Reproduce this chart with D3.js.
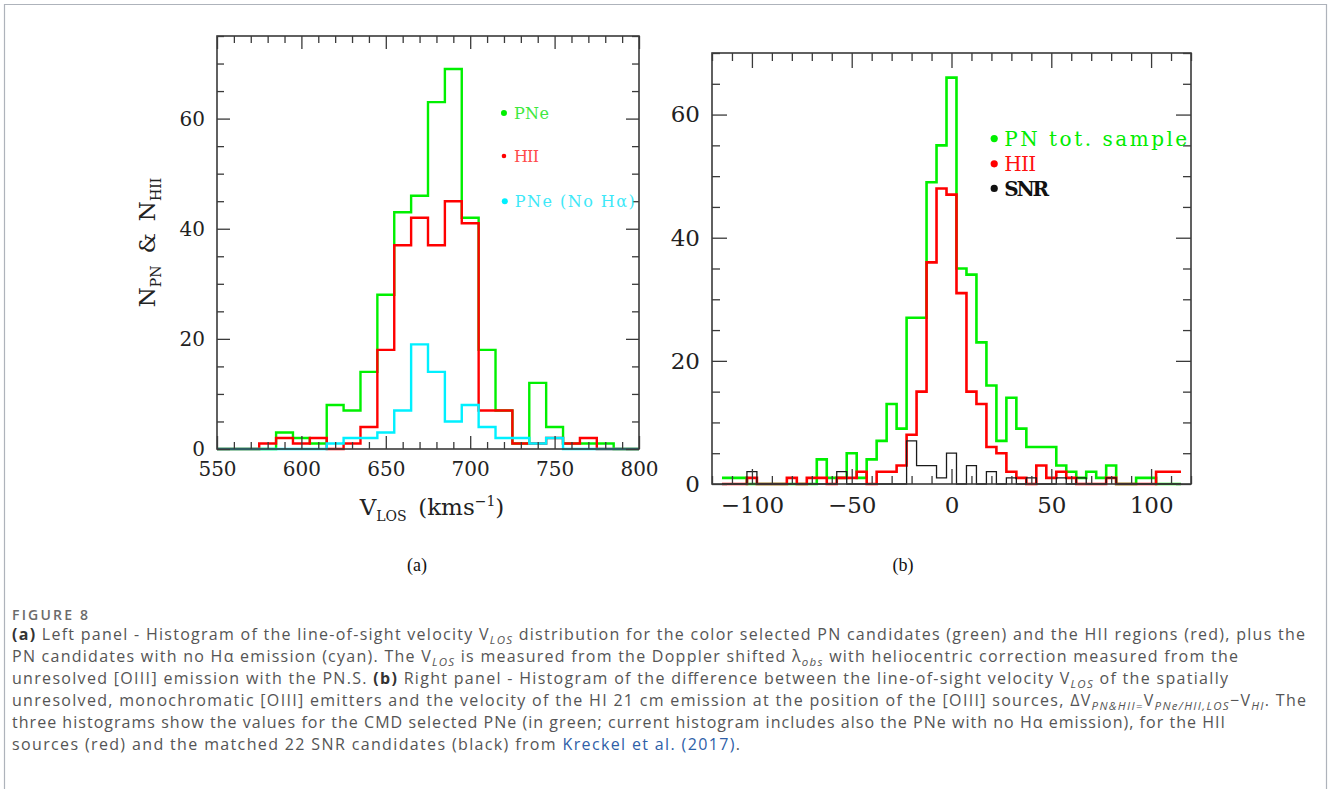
<!DOCTYPE html>
<html>
<head>
<meta charset="utf-8">
<script src="https://cdn.jsdelivr.net/npm/d3@7"></script>
<style>
  body { margin: 0; background: #fff; }
  svg { display: block; }
</style>
</head>
<body>
<div id="chart"></div>
<script>
// (a) line-of-sight velocity histograms, bin centres in km/s
var leftCenters = [550, 560, 570, 580, 590, 600, 610, 620, 630, 640, 650, 660, 670,
                   680, 690, 700, 710, 720, 730, 740, 750, 760, 770, 780, 790, 800];
var leftPNe     = [0, 0, 0, 0, 3, 2, 1, 8, 7, 14, 28, 43, 46, 63, 69, 42, 18, 7, 1, 12, 4, 1, 1, 1, 0, 0];
var leftHII     = [0, 0, 0, 1, 2, 1, 2, 0, 1, 4, 18, 37, 42, 37, 45, 41, 7, 7, 1, 1, 2, 1, 2, 0, 0, 0];
var leftPNeNoHa = [0, 0, 0, 0, 0, 0, 0, 1, 2, 2, 3, 7, 19, 14, 5, 8, 4, 2, 2, 1, 2, 0, 0, 0, 0, 0];

// (b) velocity difference histograms
var rightCenters = [-115, -110, -105, -100, -95, -90, -85, -80, -75, -70, -65, -60, -55, -50, -45, -40,
                    -35, -30, -25, -20, -15, -10, -5, 0, 5, 10, 15, 20, 25, 30, 35, 40, 45, 50, 55,
                    60, 65, 70, 75, 80, 85, 90, 95, 100, 105, 110, 115];
var rightPN  = [1, 1, 1, 0, 0, 0, 0, 0, 0, 0, 4, 1, 1, 5, 1, 4, 7, 13, 9, 27, 27, 49, 55, 66,
                35, 34, 23, 16, 7, 14, 9, 6, 6, 6, 3, 2, 1, 2, 1, 3, 0, 0, 1, 1, 0, 0, 0];
var rightHII = [0, 0, 0, 1, 0, 0, 0, 1, 0, 1, 1, 0, 1, 1, 2, 0, 2, 2, 3, 8, 15, 36, 48, 47,
                31, 15, 13, 6, 5, 2, 1, 0, 3, 1, 2, 1, 0, 0, 0, 1, 0, 0, 0, 0, 2, 2, 2];
var rightSNR = [0, 0, 0, 2, 0, 0, 0, 0, 0, 0, 0, 0, 2, 0, 0, 0, 0, 0, 0, 7, 3, 3, 1, 5,
                0, 3, 0, 2, 0, 1, 0, 1, 0, 0, 1, 0, 1, 0, 0, 1, 0, 0, 0, 0, 0, 0, 0];

var green = "#00f000", red = "#ff0000", cyan = "#00f0ff", frameColor = "#3a3a3a";
var plotFont = "'DejaVu Serif', serif";

var svg = d3.select("#chart").append("svg")
  .attr("width", 1330)
  .attr("height", 789)
  .style("background", "#fff");

// outer figure border (open at the bottom)
svg.append("path")
  .attr("d", "M4.5,789 V4.5 H1326.5 V789")
  .attr("fill", "none")
  .attr("stroke", "#aeb3bb")
  .attr("stroke-width", 1.2);

// pgbin-like step path: end bins are half width
function stepPoints(centers, values) {
  var pts = [];
  for (var i = 0; i < centers.length; i++) {
    var e = i === 0 ? centers[0] : (centers[i - 1] + centers[i]) / 2;
    pts.push([e, values[i]]);
  }
  pts.push([centers[centers.length - 1], values[values.length - 1]]);
  return pts;
}

function drawPanel(opt) {
  var x = d3.scaleLinear().domain(opt.xDomain).range([opt.left, opt.right]);
  var y = d3.scaleLinear().domain(opt.yDomain).range([opt.bottom, opt.top]);
  var g = svg.append("g");

  var line = d3.line()
    .x(function(d) { return x(d[0]); })
    .y(function(d) { return y(d[1]); })
    .curve(d3.curveStepAfter);

  opt.series.forEach(function(s) {
    g.append("path")
      .attr("d", line(stepPoints(opt.centers, s.values)))
      .attr("fill", "none")
      .attr("stroke", s.color)
      .attr("stroke-width", s.width)
      .attr("stroke-linejoin", "miter");
  });

  // frame
  g.append("rect")
    .attr("x", opt.left).attr("y", opt.top)
    .attr("width", opt.right - opt.left).attr("height", opt.bottom - opt.top)
    .attr("fill", "none").attr("stroke", frameColor).attr("stroke-width", 1.6);

  function styleAxis(sel) {
    sel.select(".domain").remove();
    sel.selectAll("line").attr("stroke", frameColor).attr("stroke-width", 1.3);
    sel.selectAll("text").attr("fill", "#222")
      .style("font-family", plotFont).style("font-size", opt.tickFont + "px");
  }

  var xMinor = opt.xMinor.filter(function(v) { return opt.xMajor.indexOf(v) < 0; });
  var yMinor = opt.yMinor.filter(function(v) { return opt.yMajor.indexOf(v) < 0; });

  // bottom
  g.append("g").attr("transform", "translate(0," + opt.bottom + ")")
    .call(d3.axisBottom(x).tickValues(xMinor).tickFormat("").tickSizeInner(-opt.minorLen).tickSizeOuter(0))
    .call(styleAxis);
  g.append("g").attr("transform", "translate(0," + opt.bottom + ")")
    .call(d3.axisBottom(x).tickValues(opt.xMajor).tickFormat(d3.format("d"))
      .tickSizeInner(-opt.majorLen).tickSizeOuter(0).tickPadding(opt.xPad))
    .call(styleAxis);
  // top
  g.append("g").attr("transform", "translate(0," + opt.top + ")")
    .call(d3.axisTop(x).tickValues(xMinor).tickFormat("").tickSizeInner(-opt.minorLen).tickSizeOuter(0))
    .call(styleAxis);
  g.append("g").attr("transform", "translate(0," + opt.top + ")")
    .call(d3.axisTop(x).tickValues(opt.xMajor).tickFormat("").tickSizeInner(-opt.majorLen).tickSizeOuter(0))
    .call(styleAxis);
  // left
  g.append("g").attr("transform", "translate(" + opt.left + ",0)")
    .call(d3.axisLeft(y).tickValues(yMinor).tickFormat("").tickSizeInner(-opt.minorLen).tickSizeOuter(0))
    .call(styleAxis);
  g.append("g").attr("transform", "translate(" + opt.left + ",0)")
    .call(d3.axisLeft(y).tickValues(opt.yMajor).tickFormat(d3.format("d"))
      .tickSizeInner(-opt.majorLen).tickSizeOuter(0).tickPadding(opt.yPad))
    .call(styleAxis);
  // right
  g.append("g").attr("transform", "translate(" + opt.right + ",0)")
    .call(d3.axisRight(y).tickValues(yMinor).tickFormat("").tickSizeInner(-opt.minorLen).tickSizeOuter(0))
    .call(styleAxis);
  g.append("g").attr("transform", "translate(" + opt.right + ",0)")
    .call(d3.axisRight(y).tickValues(opt.yMajor).tickFormat("").tickSizeInner(-opt.majorLen).tickSizeOuter(0))
    .call(styleAxis);

  // legend
  opt.legend.forEach(function(l) {
    var lx = x(l.x), ly = y(l.y);
    g.append("circle").attr("cx", lx).attr("cy", ly).attr("r", l.r).attr("fill", l.dot);
    var t = g.append("text")
      .attr("x", lx + 10).attr("y", ly).attr("dy", "0.36em")
      .attr("fill", l.color)
      .style("font-family", plotFont)
      .style("font-size", opt.legendFont + "px")
      .style("font-weight", l.bold ? "bold" : "normal")
      .text(l.text);
    if (l.len) t.attr("textLength", l.len).attr("lengthAdjust", "spacing");
  });
  return {x: x, y: y};
}

var pa = drawPanel({
  left: 217, right: 639, top: 36, bottom: 449,
  xDomain: [550, 800], yDomain: [0, 75],
  centers: leftCenters,
  series: [
    {values: leftPNe, color: green, width: 2.4},
    {values: leftHII, color: red, width: 2.4},
    {values: leftPNeNoHa, color: cyan, width: 2.4}
  ],
  xMinor: d3.range(550, 801, 10), xMajor: [550, 600, 650, 700, 750, 800],
  yMinor: d3.range(0, 76, 5), yMajor: [0, 20, 40, 60],
  minorLen: 7, majorLen: 13, tickFont: 20, xPad: 13, yPad: 12,
  legendFont: 16,
  legend: [
    {x: 720, y: 61, r: 3, dot: green, color: "#3ee83e", text: "PNe", len: 35},
    {x: 720, y: 53.2, r: 2.3, dot: red, color: "#ff4a4a", text: "HII", len: 25},
    {x: 720.5, y: 45, r: 3, dot: cyan, color: "#3ee8f8", text: "PNe (No H\u03b1)", len: 120}
  ]
});

// axis titles panel (a)
svg.append("text")
  .attr("transform", "translate(" + (pa.x(550) - 62) + "," + pa.y(37.5) + ") rotate(-90)")
  .attr("text-anchor", "middle")
  .attr("fill", "#222")
  .style("font-family", plotFont).style("font-size", "23px")
  .call(function(t) {
    t.append("tspan").text("N");
    t.append("tspan").attr("dy", 6).style("font-size", "14px").text("PN");
    t.append("tspan").attr("dy", -6).text("\u2009 &\u2009 N");
    t.append("tspan").attr("dy", 6).style("font-size", "14px").text("HII");
  });

svg.append("text")
  .attr("x", pa.x(675) + 4).attr("y", 515)
  .attr("text-anchor", "middle")
  .attr("fill", "#222")
  .style("font-family", plotFont).style("font-size", "23px")
  .call(function(t) {
    t.append("tspan").text("V");
    t.append("tspan").attr("dy", 6).style("font-size", "14px").text("LOS");
    t.append("tspan").attr("dy", -6).text("\u2002(kms");
    t.append("tspan").attr("dy", -9).style("font-size", "14px").text("\u22121");
    t.append("tspan").attr("dy", 9).text(")");
  });

drawPanel({
  left: 712, right: 1191, top: 53, bottom: 484,
  xDomain: [-120, 120], yDomain: [0, 70],
  centers: rightCenters,
  series: [
    {values: rightPN, color: green, width: 2.6},
    {values: rightHII, color: red, width: 2.6},
    {values: rightSNR, color: "#1a1a1a", width: 1.3}
  ],
  xMinor: d3.range(-120, 121, 10), xMajor: [-100, -50, 0, 50, 100],
  yMinor: d3.range(0, 71, 5), yMajor: [0, 20, 40, 60],
  minorLen: 8, majorLen: 15, tickFont: 23, xPad: 13, yPad: 12,
  legendFont: 20,
  legend: [
    {x: 21.4, y: 56.1, r: 3.6, dot: green, color: "#00ec00", text: "PN tot. sample", len: 183},
    {x: 21.4, y: 52, r: 3.6, dot: red, color: "#ff1010", text: "HII", len: 32},
    {x: 21.4, y: 48, r: 3.6, dot: "#111", color: "#111", text: "SNR", len: 45, bold: true}
  ]
});

// sub-figure labels
[["(a)", 417], ["(b)", 903]].forEach(function(d) {
  svg.append("text").attr("x", d[1]).attr("y", 571).attr("text-anchor", "middle")
    .attr("fill", "#111")
    .style("font-family", "'Liberation Serif', serif").style("font-size", "18px")
    .text(d[0]);
});

// caption
var capFont = "'Open Sans', 'Noto Sans', sans-serif";
svg.append("text").attr("x", 12).attr("y", 620)
  .attr("fill", "#6b6b6b")
  .attr("textLength", 76).attr("lengthAdjust", "spacing")
  .style("font-family", capFont).style("font-size", "14px").style("font-weight", "600")
  .text("FIGURE 8");

var captionLines = [
  [["b", "(a)"], ["", " Left panel - Histogram of the line-of-sight velocity V"], ["s", "LOS"],
   ["", " distribution for the color selected PN candidates (green) and the HII regions (red), plus the"]],
  [["", "PN candidates with no H\u03b1 emission (cyan). The V"], ["s", "LOS"],
   ["", " is measured from the Doppler shifted \u03bb"], ["s", "obs"],
   ["", " with heliocentric correction measured from the"]],
  [["", "unresolved [OIII] emission with the PN.S. "], ["b", "(b)"],
   ["", " Right panel - Histogram of the difference between the line-of-sight velocity V"], ["s", "LOS"],
   ["", " of the spatially"]],
  [["", "unresolved, monochromatic [OIII] emitters and the velocity of the HI 21 cm emission at the position of the [OIII] sources, \u0394V"],
   ["s", "PN&HII="], ["", "V"], ["s", "PNe/HII,LOS"], ["", "\u2212V"], ["s", "HI"], ["", ". The"]],
  [["", "three histograms show the values for the CMD selected PNe (in green; current histogram includes also the PNe with no H\u03b1 emission), for the HII"]],
  [["", "sources (red) and the matched 22 SNR candidates (black) from "], ["l", "Kreckel et al. (2017)"], ["", "."]]
];
// line widths as they appear in the figure
var captionWidths = [1293, 1226, 1216, 1294, 1213, 728];

captionLines.forEach(function(parts, i) {
  var t = svg.append("text").attr("x", 12).attr("y", 640 + i * 22)
    .attr("fill", "#555")
    .attr("textLength", captionWidths[i]).attr("lengthAdjust", "spacing")
    .style("font-family", capFont).style("font-size", "16px");
  var shifted = false;
  parts.forEach(function(p) {
    var s = t.append("tspan").text(p[1]);
    if (p[0] === "s") {
      s.style("font-size", "11.5px").style("font-style", "italic").attr("dy", shifted ? 0 : 4);
      shifted = true;
    } else {
      if (shifted) s.attr("dy", -4);
      shifted = false;
    }
    if (p[0] === "b") s.style("font-weight", "bold").attr("fill", "#333");
    if (p[0] === "l") s.attr("fill", "#2f5fa8");
  });
});
</script>
</body>
</html>
